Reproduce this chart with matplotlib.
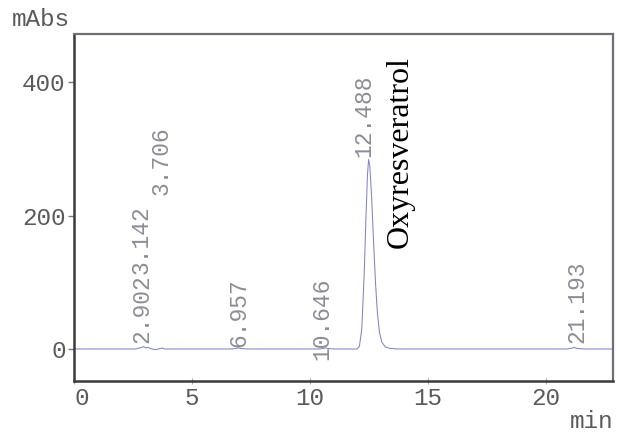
import matplotlib
matplotlib.use("Agg")
import matplotlib.pyplot as plt
from matplotlib.transforms import ScaledTranslation

# ---- data ----
time_min = [0.0, 2.6, 2.85, 2.95, 3.05, 3.14, 3.25, 3.45, 3.65, 3.72, 3.85,
            6.7, 6.9, 6.96, 7.05, 7.3,
            10.4, 10.6, 10.65, 10.72, 11.0,
            12.00, 12.10, 12.20, 12.30, 12.38, 12.44, 12.488, 12.54, 12.62,
            12.70, 12.78, 12.86, 12.95, 13.05, 13.20, 13.40, 13.70,
            20.9, 21.15, 21.2, 21.3, 21.6, 22.9]
signal_mabs = [0.0, 0.0, 2.0, 3.5, 1.5, 2.5, 0.5, -1.0, 0.5, 1.5, 0.0,
               0.0, 1.0, 2.0, 0.8, 0.0,
               0.0, 1.0, 2.0, 1.0, 0.0,
               0.0, 4.0, 30.0, 110.0, 200.0, 260.0, 284.0, 275.0, 225.0,
               160.0, 100.0, 55.0, 25.0, 10.0, 3.0, 0.8, 0.0,
               0.0, 1.5, 2.5, 1.0, 0.0, 0.0]

peak_rt_labels = ["2.902", "3.142", "3.706", "6.957", "10.646", "12.488", "21.193"]
peak_rt = [2.902, 3.142, 3.706, 6.957, 10.646, 12.488, 21.193]
compound_name = "Oxyresveratrol"

x_ticks = [0, 5, 10, 15, 20]
y_ticks = [0, 200, 400]

# ---- layout of the peak labels (x anchor, bottom of text in mAbs) ----
label_x = [2.86, 2.86, 3.70, 6.98, 10.50, 12.30, 21.33]
label_bottom = [9, 112, 230, 3, -16, 288, 9]

mono = "Liberation Mono"
tick_col = "#5a5a5a"
label_col = "#8c8c96"
trace_col = "#8084c8"
tick_fs = 17.5
peak_fs = 16.5

fig = plt.figure(figsize=(6.17, 4.37), dpi=100)
ax = fig.add_axes([74 / 617, 56 / 437, 539 / 617, 347 / 437])

ax.plot(time_min, signal_mabs, color=trace_col, lw=0.75)

ax.set_xlim(0, 22.85)
ax.set_ylim(-48, 472)

ax.set_xticks(x_ticks)
ax.set_yticks(y_ticks)
ax.set_xticklabels([str(v) for v in x_ticks])
ax.set_yticklabels([str(v) for v in y_ticks])
for lab in ax.get_xticklabels() + ax.get_yticklabels():
    lab.set_fontfamily(mono)
    lab.set_fontsize(tick_fs)
    lab.set_color(tick_col)

ax.tick_params(axis="y", direction="out", length=4, width=1.0, color="#777777", pad=2)
ax.tick_params(axis="x", direction="inout", length=5, width=0.8, color="#aaaaaa", pad=2)

# the "0" x label sits a little right of its tick in the reference
first = ax.xaxis.get_major_ticks()[0].label1
first.set_transform(first.get_transform() + ScaledTranslation(0.08, 0, fig.dpi_scale_trans))

for side in ["left", "bottom"]:
    ax.spines[side].set_color("#3a3a3a")
    ax.spines[side].set_linewidth(1.8)
for side in ["top", "right"]:
    ax.spines[side].set_color("#6e6e78")
    ax.spines[side].set_linewidth(1.6)

for txt, xx, yy in zip(peak_rt_labels, label_x, label_bottom):
    ax.text(xx, yy, txt, rotation=90, ha="center", va="bottom",
            fontfamily=mono, fontsize=peak_fs, color=label_col)

ax.text(13.85, 151, compound_name, rotation=90, ha="center", va="bottom",
        fontfamily="Liberation Serif", fontsize=23, color="black")

fig.text(12 / 617, 1 - 20 / 437, "mAbs", ha="left", va="center",
         fontfamily=mono, fontsize=tick_fs, color=tick_col)
fig.text(613 / 617, 1 - 422 / 437, "min", ha="right", va="center",
         fontfamily=mono, fontsize=tick_fs, color=tick_col)

fig.savefig("out.png", dpi=100)
